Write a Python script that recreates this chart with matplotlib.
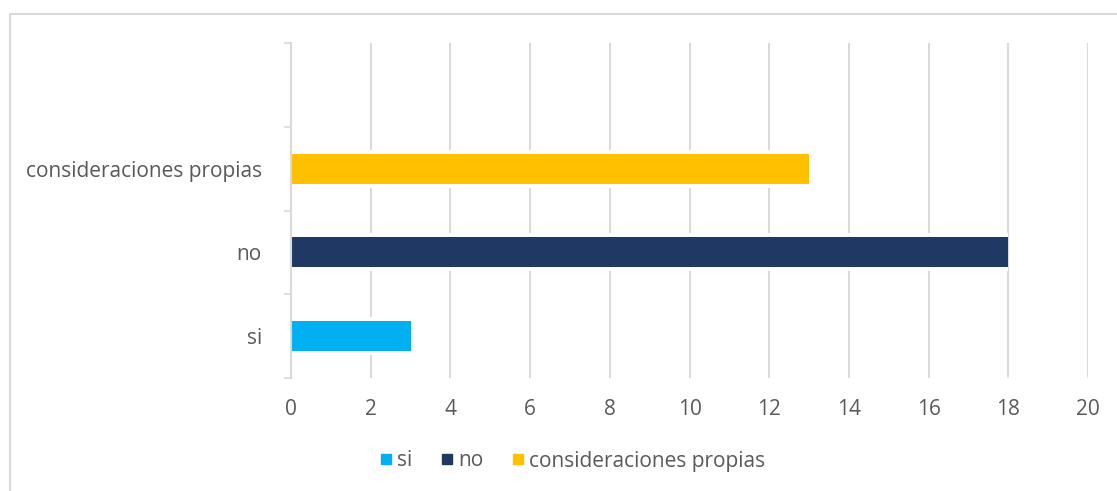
import matplotlib
matplotlib.use("Agg")
import matplotlib.pyplot as plt
from matplotlib.lines import Line2D
from matplotlib.patches import Rectangle
import numpy as np

categories = ["si", "no", "consideraciones propias"]
values = [3, 18, 13]
colors = ["#00B0F0", "#1F3864", "#FFC000"]
xticks = [0, 2, 4, 6, 8, 10, 12, 14, 16, 18, 20]

plt.rcParams['font.family'] = ['Open Sans', 'DejaVu Sans']
TXT = "#595959"
GRID = "#D9D9D9"
FS = 15

W, H = 1117, 491
fig = plt.figure(figsize=(W / 100, H / 100), dpi=100)
fig.patch.set_facecolor("white")

# chart-area border
fig.add_artist(Rectangle((10 / W, -0.1), 1.2, 1 - 14 / H + 0.1, transform=fig.transFigure,
                         fill=False, edgecolor=GRID, linewidth=1.5))

ax = fig.add_axes([291 / W, 1 - 378 / H, (1088 - 291) / W, (378 - 43) / H])
ax.set_xlim(0, 20)
ax.set_ylim(-0.5, 3.5)

pos = np.arange(len(categories))
bar_h = 0.36
pad_h = bar_h + 8 / 84
for i, (c, v, col) in enumerate(zip(categories, values, colors)):
    ax.barh(pos[i], v, height=pad_h, color="white", zorder=2)
    ax.barh(pos[i], v, height=bar_h, color=col, zorder=3, label=c)

ax.set_xticks(xticks)
ax.set_xticklabels([str(t) for t in xticks])
ax.xaxis.grid(True, color=GRID, linewidth=1.4, zorder=1)
ax.set_axisbelow(True)

ax.set_yticks(pos)
ax.set_yticklabels(categories)
ax.set_yticks(np.arange(-0.5, 3.6, 1.0), minor=True)
ax.tick_params(axis="y", which="major", length=0, pad=21, labelsize=FS, labelcolor=TXT)
ax.tick_params(axis="y", which="minor", length=5, width=1.2, color=GRID)
ax.tick_params(axis="x", which="major", length=0, pad=15, labelsize=FS, labelcolor=TXT)

for s in ["top", "right", "bottom"]:
    ax.spines[s].set_visible(False)
ax.spines["left"].set_color(GRID)
ax.spines["left"].set_linewidth(1.5)
ax.spines["left"].set_zorder(4)

handles = [Line2D([], [], marker="s", linestyle="none", markersize=6.5,
                  markerfacecolor=col, markeredgecolor=col) for col in colors]
fig.legend(handles, categories, loc="center", bbox_to_anchor=(573 / W, 1 - 461 / H),
           ncol=3, frameon=False, fontsize=FS, labelcolor=TXT,
           handlelength=0.45, handletextpad=0.3, columnspacing=1.45)

fig.savefig("out.png", dpi=100, facecolor="white")
